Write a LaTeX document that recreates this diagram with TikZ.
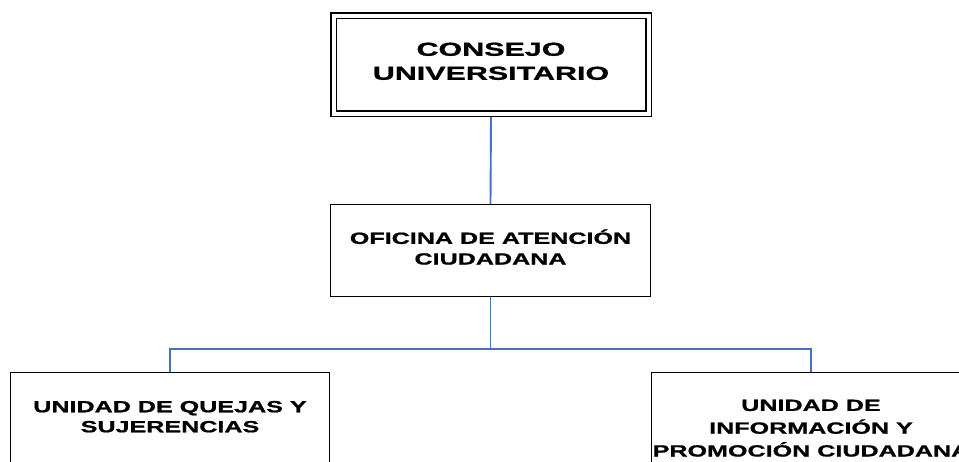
\documentclass[tikz,border=0pt]{standalone}
\usepackage{fontspec}
\newfontfamily\wideb[FakeStretch=1.55,FakeBold=1]{Liberation Sans Bold}
\newfontfamily\widec[FakeStretch=1.62,FakeBold=1]{Liberation Sans Bold}
\definecolor{bluec}{HTML}{4472C4}
\tikzset{
 box/.style={draw=black, line width=1.4pt, fill=white, inner sep=0pt, rectangle},
 dbox/.style={draw=black, line width=1.5pt, double=white, double distance=4pt, inner sep=0pt, outer sep=3.5pt, rectangle},
 conn/.style={draw=bluec, line width=1.9pt},
 tbig/.style={font=\widec\fontsize{18.8}{24}\selectfont, align=center, inner sep=0pt},
 tmid/.style={font=\wideb\fontsize{16.2}{20.7}\selectfont, align=center, inner sep=0pt},
 tsm/.style={font=\wideb\fontsize{16.2}{20}\selectfont, align=center, inner sep=0pt},
 tsr/.style={font=\wideb\fontsize{16.2}{22.8}\selectfont, align=center, inner sep=0pt},
}
\begin{document}
\begin{tikzpicture}[x=1pt,y=-1pt]
\useasboundingbox (0,0) rectangle (959,461);
\clip (0,0) rectangle (959,461);
\node[dbox, minimum width=315pt, minimum height=98pt] (cu) at (491,64.5) {};
\node[tbig] (cut) at (491,61.3) {CONSEJO\\UNIVERSITARIO};
\node[box, minimum width=319.6pt, minimum height=91.6pt] (oac) at (490.5,250.5) {};
\node[tmid] (oact) at (490.5,247.1) {OFICINA DE ATENCIÓN\\CIUDADANA};
\node[box, minimum width=318.6pt, minimum height=200pt] (qs) at (170,472.7) {};
\node[tsm] (qst) at (170,416.7) {UNIDAD DE QUEJAS Y\\SUJERENCIAS};
\node[box, minimum width=318.6pt, minimum height=200pt] (ip) at (811,472.7) {};
\node[tsr] (ipt) at (811,428.2) {UNIDAD DE\\INFORMACIÓN Y\\PROMOCIÓN CIUDADANA};
\coordinate (bus) at (490.5,349);
\draw[conn] (cu.south) -- (oac.north);
\draw[conn] (oac.south) -- (bus);
\draw[conn] (qs.north) |- (bus) -| (ip.north);
\end{tikzpicture}
\end{document}
